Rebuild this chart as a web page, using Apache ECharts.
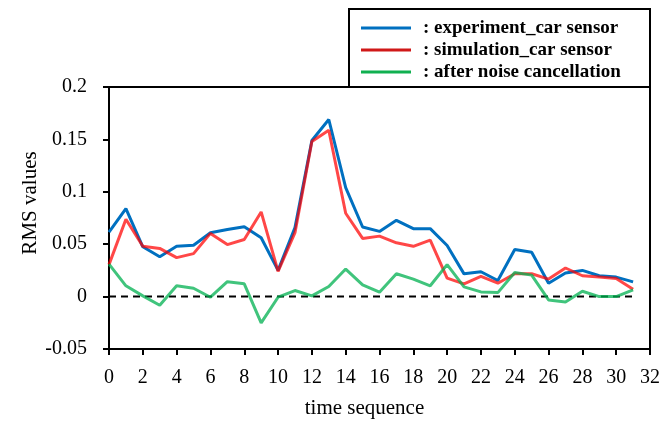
<!DOCTYPE html>
<html>
<head>
<meta charset="utf-8">
<script src="https://cdn.jsdelivr.net/npm/echarts@6/dist/echarts.min.js"></script>
<style>
  html, body { margin: 0; padding: 0; background: #fff; }
  #chart { width: 662px; height: 421px; }
</style>
</head>
<body>
<div id="chart"></div>
<script>
// Time index of each RMS sample
const timeSeq = [0, 1, 2, 3, 4, 5, 6, 7, 8, 9, 10, 11, 12, 13, 14, 15,
                 16, 17, 18, 19, 20, 21, 22, 23, 24, 25, 26, 27, 28, 29, 30, 31];

// RMS measured by the car sensor during the experiment
const experimentRms = [0.0615, 0.084, 0.0475, 0.038, 0.048, 0.049, 0.061, 0.064,
                       0.0667, 0.0561, 0.025, 0.0658, 0.149, 0.169, 0.104, 0.0664,
                       0.0622, 0.0728, 0.0648, 0.0648, 0.0488, 0.0217, 0.0237, 0.0154,
                       0.0449, 0.0423, 0.0128, 0.0225, 0.025, 0.0199, 0.0186, 0.0141];

// RMS from the simulated car sensor
const simulationRms = [0.0305, 0.0738, 0.048, 0.046, 0.0372, 0.041, 0.0603, 0.0496,
                       0.0545, 0.0808, 0.024, 0.061, 0.148, 0.1587, 0.0795, 0.0555,
                       0.0577, 0.0513, 0.048, 0.0539, 0.0177, 0.0122, 0.0192, 0.0128,
                       0.0218, 0.0218, 0.0167, 0.0273, 0.0199, 0.0186, 0.0173, 0.0071];

// Residual RMS after noise cancellation
const cancelledRms = [0.031, 0.0103, 0.0007, -0.0083, 0.0103, 0.008, -0.0006, 0.0142,
                      0.0122, -0.025, -0.0006, 0.0058, 0.0007, 0.0096, 0.0263, 0.0112,
                      0.0042, 0.0218, 0.0167, 0.0103, 0.0305, 0.0093, 0.0045, 0.0038,
                      0.023, 0.0205, -0.0032, -0.0051, 0.0051, 0.0, 0.0, 0.0064];

// Zero reference drawn across the sampled range
const zeroRef = [0, 0];

const seriesNames = ['experiment_car sensor', 'simulation_car sensor', 'after noise cancellation'];

const pairs = (ys) => timeSeq.map((t, i) => [t, ys[i]]);
const serif = '"Liberation Serif", "Times New Roman", serif';

const chart = echarts.init(document.getElementById('chart'), null, { renderer: 'canvas' });

chart.setOption({
  animation: false,
  backgroundColor: '#fff',
  textStyle: { fontFamily: serif, color: '#000' },
  grid: {
    left: 109, right: 12, top: 87, bottom: 72,
    containLabel: false, outerBoundsMode: 'none',
    show: true, borderColor: '#000', borderWidth: 2, backgroundColor: 'transparent'
  },
  graphic: [{
    type: 'rect', z: 3,
    shape: { x: 349, y: 9, width: 301, height: 78 },
    style: { fill: '#fff', stroke: '#000', lineWidth: 2 }
  }],
  legend: {
    orient: 'vertical',
    left: 361, top: 17,
    padding: 0,
    z: 5,
    icon: 'rect',
    itemWidth: 50, itemHeight: 3,
    itemGap: 0,
    formatter: (name) => ': ' + name,
    textStyle: {
      fontFamily: serif, fontWeight: 'bold', fontSize: 19, color: '#000',
      lineHeight: 22, padding: [0, 0, 0, 7]
    },
    data: [
      { name: seriesNames[0], itemStyle: { color: '#0070c0' } },
      { name: seriesNames[1], itemStyle: { color: '#d01818' } },
      { name: seriesNames[2], itemStyle: { color: '#10b050' } }
    ]
  },
  xAxis: {
    type: 'value', min: 0, max: 32, interval: 2,
    name: 'time sequence', nameLocation: 'middle', nameGap: 49,
    nameTextStyle: { fontFamily: serif, fontSize: 21, color: '#000', padding: [0, 30, 0, 0] },
    axisLine: { show: true, onZero: false, lineStyle: { color: '#000', width: 2 } },
    axisTick: { show: true, inside: false, length: 6, lineStyle: { color: '#000', width: 2 } },
    axisLabel: { fontFamily: serif, fontSize: 20, color: '#000', margin: 19 },
    splitLine: { show: false }
  },
  yAxis: {
    type: 'value', min: -0.05, max: 0.2, interval: 0.05,
    name: 'RMS values', nameLocation: 'middle', nameGap: 68, nameRotate: 90,
    nameMoveOverlap: false,
    nameTextStyle: { fontFamily: serif, fontSize: 21, color: '#000', padding: [0, 0, 0, 30] },
    axisLine: { show: true, onZero: false, lineStyle: { color: '#000', width: 2 } },
    axisTick: { show: true, inside: false, length: 6, lineStyle: { color: '#000', width: 2 } },
    axisLabel: { fontFamily: serif, fontSize: 20, color: '#000', margin: 22 },
    splitLine: { show: false }
  },
  series: [
    {
      name: 'zero', type: 'line',
      data: [[timeSeq[0], zeroRef[0]], [timeSeq[timeSeq.length - 1], zeroRef[1]]],
      showSymbol: false, symbol: 'none', z: 1, silent: true,
      lineStyle: { color: '#000', width: 2, type: [7, 5] }
    },
    {
      name: seriesNames[0], type: 'line', data: pairs(experimentRms),
      showSymbol: false, symbol: 'none', z: 2,
      lineStyle: { color: '#0070c0', width: 3 }, itemStyle: { color: '#0070c0' }
    },
    {
      name: seriesNames[1], type: 'line', data: pairs(simulationRms),
      showSymbol: false, symbol: 'none', z: 3,
      lineStyle: { color: '#ff0000', width: 3, opacity: 0.72 }, itemStyle: { color: '#ff0000' }
    },
    {
      name: seriesNames[2], type: 'line', data: pairs(cancelledRms),
      showSymbol: false, symbol: 'none', z: 4,
      lineStyle: { color: '#00b050', width: 3, opacity: 0.75 }, itemStyle: { color: '#00b050' }
    }
  ]
});
</script>
</body>
</html>
